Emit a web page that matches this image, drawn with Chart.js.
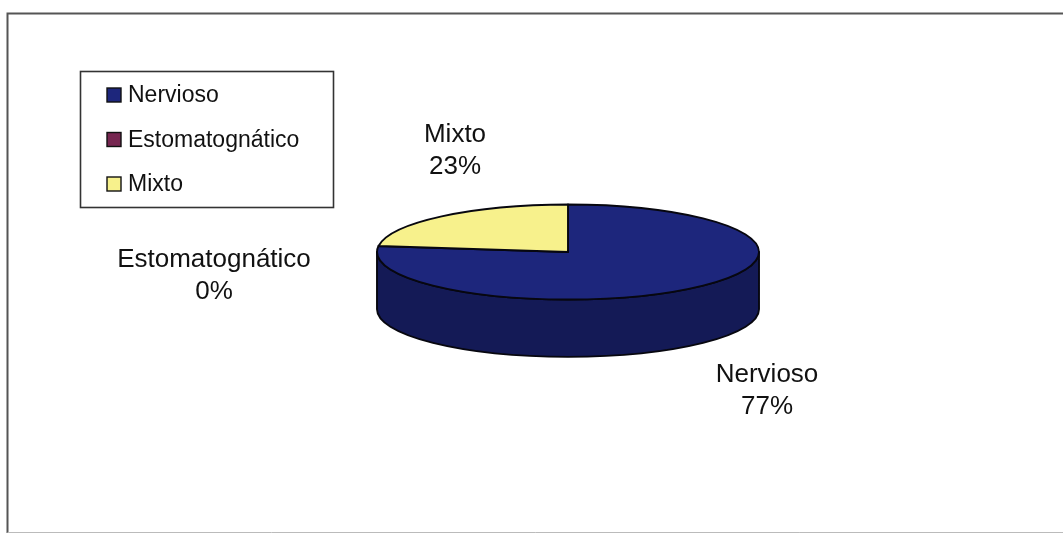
<!DOCTYPE html>
<html>
<head>
<meta charset="utf-8">
<title>Nervioso / Estomatognático / Mixto</title>
<script src="https://cdn.jsdelivr.net/npm/chart.js@4.4.1/dist/chart.umd.min.js"></script>
<style>
  html, body { margin: 0; padding: 0; background: #fff; }
  #chart { display: block; }
</style>
</head>
<body>
<canvas id="chart" width="1063" height="537"></canvas>
<script>
// Categories and their shares (%)
const categories = ['Nervioso', 'Estomatognático', 'Mixto'];
const shares = [77, 0, 23];

// Top face and side wall colours for each slice
const topColors = ['#1d267c', '#762650', '#f7f18c'];
const sideColors = ['#141a56', '#4c1834', '#b8b060'];

const FONT = '"Liberation Sans", Arial, sans-serif';

/**
 * Draws the pie as a tilted disc: the arcs computed by the pie controller
 * are projected onto an ellipse and given a side wall.
 */
const pie3d = {
  id: 'pie3d',
  beforeDatasetsDraw(chart) {
    const ctx = chart.ctx;
    const arcs = chart.getDatasetMeta(0).data;
    const cx = arcs[0].x;
    const cy = arcs[0].y;
    const rx = arcs[0].outerRadius;
    const ry = rx * 0.249;
    const depth = rx * 0.30;
    const TAU = Math.PI * 2;

    ctx.save();
    ctx.lineJoin = 'round';
    ctx.strokeStyle = '#07070f';
    ctx.lineWidth = 1.9;

    // side walls, only the front half (0..PI) can be seen
    arcs.forEach((arc, i) => {
      if (arc.endAngle - arc.startAngle <= 0) return;
      for (let k = -1; k <= 1; k++) {
        const lo = Math.max(arc.startAngle, TAU * k);
        const hi = Math.min(arc.endAngle, TAU * k + Math.PI);
        if (hi <= lo) continue;
        ctx.beginPath();
        ctx.ellipse(cx, cy, rx, ry, 0, lo, hi);
        ctx.ellipse(cx, cy + depth, rx, ry, 0, hi, lo, true);
        ctx.closePath();
        ctx.fillStyle = sideColors[i];
        ctx.fill();
        ctx.stroke();
      }
    });

    // top faces
    arcs.forEach((arc, i) => {
      if (arc.endAngle - arc.startAngle <= 0) return;
      ctx.beginPath();
      ctx.moveTo(cx, cy);
      ctx.ellipse(cx, cy, rx, ry, 0, arc.startAngle, arc.endAngle);
      ctx.closePath();
      ctx.fillStyle = topColors[i];
      ctx.fill();
      ctx.stroke();
    });
    ctx.restore();
    return false;
  }
};

// Category name + percentage next to each slice
const sliceLabels = {
  id: 'sliceLabels',
  afterDraw(chart) {
    const ctx = chart.ctx;
    const total = shares.reduce((a, b) => a + b, 0);
    const spots = [[767, 382], [214, 267], [455, 142]];
    ctx.save();
    ctx.font = '26px ' + FONT;
    ctx.fillStyle = '#111';
    ctx.textAlign = 'center';
    ctx.textBaseline = 'alphabetic';
    categories.forEach((name, i) => {
      const pct = Math.round(shares[i] / total * 100) + '%';
      ctx.fillText(name, spots[i][0], spots[i][1]);
      ctx.fillText(pct, spots[i][0], spots[i][1] + 32);
    });
    ctx.restore();
  }
};

// Outer frame and the boxed legend at the top left
const frameAndLegend = {
  id: 'frameAndLegend',
  beforeDraw(chart) {
    const ctx = chart.ctx;
    ctx.save();
    ctx.fillStyle = '#fff';
    ctx.fillRect(0, 0, chart.width, chart.height);
    ctx.strokeStyle = '#555';
    ctx.lineWidth = 2;
    ctx.beginPath();
    ctx.moveTo(7.5, 533);
    ctx.lineTo(7.5, 13.5);
    ctx.lineTo(chart.width + 2, 13.5);
    ctx.stroke();
    ctx.strokeStyle = '#bbb';
    ctx.lineWidth = 1;
    ctx.beginPath();
    ctx.moveTo(7.5, 532.5);
    ctx.lineTo(chart.width + 2, 532.5);
    ctx.stroke();
    ctx.restore();
  },
  afterDraw(chart) {
    const ctx = chart.ctx;
    ctx.save();
    ctx.fillStyle = '#fff';
    ctx.fillRect(80, 71, 253, 136);
    ctx.strokeStyle = '#333';
    ctx.lineWidth = 1.6;
    ctx.strokeRect(80.5, 71.5, 253, 136);

    ctx.font = '23px ' + FONT;
    ctx.textBaseline = 'alphabetic';
    categories.forEach((name, i) => {
      const base = 102 + i * 44.5;
      ctx.fillStyle = topColors[i];
      ctx.fillRect(107, base - 14, 14, 14);
      ctx.strokeStyle = '#111';
      ctx.lineWidth = 1.4;
      ctx.strokeRect(107, base - 14, 14, 14);
      ctx.fillStyle = '#111';
      ctx.fillText(name, 128, base);
    });
    ctx.restore();
  }
};

new Chart(document.getElementById('chart'), {
  type: 'pie',
  data: {
    labels: categories,
    datasets: [{
      data: shares,
      backgroundColor: topColors,
      borderWidth: 0
    }]
  },
  options: {
    responsive: false,
    animation: false,
    layout: {
      padding: { left: 377, right: 304, top: 61, bottom: 94 }
    },
    plugins: {
      legend: { display: false },
      tooltip: { enabled: false }
    }
  },
  plugins: [frameAndLegend, pie3d, sliceLabels]
});
</script>
</body>
</html>
